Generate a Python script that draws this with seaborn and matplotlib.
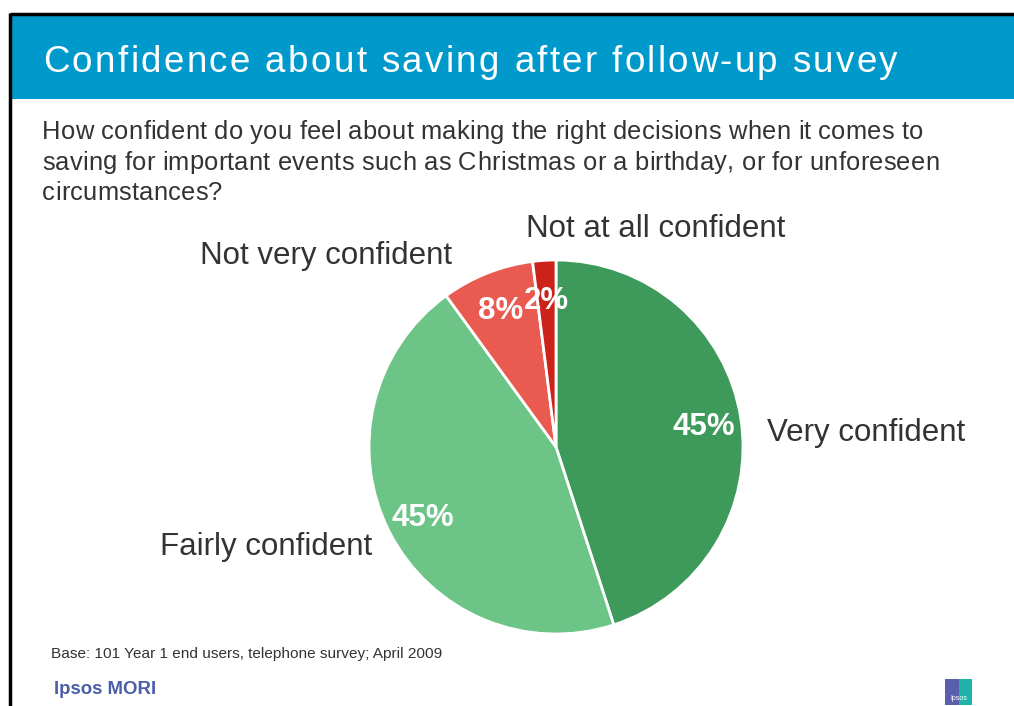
import matplotlib
matplotlib.use("Agg")
import matplotlib.pyplot as plt
from matplotlib.patches import Rectangle
from matplotlib.font_manager import findfont, FontProperties
from matplotlib.ft2font import FT2Font
import seaborn as sns

# Survey responses (share of respondents, %)
categories = ["Very confident", "Fairly confident", "Not very confident", "Not at all confident"]
shares = [45, 45, 8, 2]
slice_colors = ["#3d9a5a", "#6cc487", "#e95b51", "#cc2219"]

title = "Confidence about saving after follow-up suvey"
question_lines = [
    "How confident do you feel about making the right decisions when it comes to",
    "saving for important events such as Christmas or a birthday, or for unforeseen",
    "circumstances?",
]
base_note = "Base: 101 Year 1 end users, telephone survey; April 2009"
brand = "Ipsos MORI"

sns.set_theme(style="white")
plt.rcParams["font.family"] = ["Liberation Sans", "DejaVu Sans"]

W, H = 1014, 706
DPI = 100
fig = plt.figure(figsize=(W / DPI, H / DPI), dpi=DPI)

# Full-figure overlay in pixel units (origin top-left)
bg = fig.add_axes([0, 0, 1, 1])
bg.set_xlim(0, W)
bg.set_ylim(H, 0)
bg.axis("off")


def char_advances(s, size_pt, family="Liberation Sans", weight="normal"):
    path = findfont(FontProperties(family=family, weight=weight))
    font = FT2Font(path, hinting_factor=1)
    font.set_size(size_pt, DPI)
    return [font.load_char(ord(c)).linearHoriAdvance / 65536.0 for c in s]


def tracked_text(ax, x0, x1, y, s, size_pt, **kw):
    """Draw s from x0 to x1 (pixels) by spreading the letters evenly."""
    adv = char_advances(s, size_pt)
    natural = sum(adv[:-1])
    extra = (x1 - x0 - natural - adv[-1] * 0.9) / max(len(s) - 1, 1)
    x = x0
    for c, a in zip(s, adv):
        if c != " ":
            ax.text(x, y, c, fontsize=size_pt, ha="left", va="baseline", **kw)
        x += a + extra


# Slide frame and header band
bg.add_patch(Rectangle((11, 15), W - 11, 84, facecolor="#0099cc", edgecolor="none"))
bg.plot([10, W], [14, 14], color="black", lw=2.5, solid_capstyle="butt")
bg.plot([10, 10], [13, H], color="black", lw=2.5, solid_capstyle="butt")

tracked_text(bg, 43, 896, 72.5, title, 26.5, color="white")

line_ends = [922, 938, 221]
for i, (line, x_end) in enumerate(zip(question_lines, line_ends)):
    tracked_text(bg, 42, x_end, 139 + 30.5 * i, line, 18.4, color="#333333")

bg.text(51, 654, base_note, color="#333333", fontsize=11.1, va="center", ha="left")
bg.text(54, 689, brand, color="#4b5ea8", fontsize=13.4, va="center", ha="left",
        fontweight="bold")

# Small brand mark bottom right
bg.add_patch(Rectangle((945, 679), 14, 26, facecolor="#5a5fad", edgecolor="none"))
bg.add_patch(Rectangle((959, 679), 13, 26, facecolor="#22b3a8", edgecolor="none"))
bg.text(958.5, 699, "Ipsos", color="white", fontsize=5, ha="center", va="center")

# Pie chart
cx, cy, r = 556, 447, 187
pie_ax = fig.add_axes([(cx - r) / W, (H - cy - r) / H, 2 * r / W, 2 * r / H])
wedges, _, autotexts = pie_ax.pie(
    shares,
    colors=slice_colors,
    startangle=90,
    counterclock=False,
    autopct=lambda p: f"{p:.0f}%",
    pctdistance=0.8,
    wedgeprops=dict(edgecolor="white", linewidth=2),
    textprops=dict(color="white", fontsize=22.5, fontweight="bold"),
)
for t in autotexts:
    t.set_ha("center")
    t.set_va("center_baseline")
pie_ax.set_xlim(-1, 1)
pie_ax.set_ylim(-1, 1)
pie_ax.set_aspect("equal")
pie_ax.axis("off")

# Category labels placed around the pie (pixel positions)
label_pos = [
    (767, 433, "left"),
    (372, 547, "right"),
    (452, 256, "right"),
    (656, 229, "center"),
]
for name, (x, y, ha) in zip(categories, label_pos):
    bg.text(x, y, name, color="#333333", fontsize=22.5, ha=ha, va="center")

fig.savefig("out.png", dpi=DPI)
